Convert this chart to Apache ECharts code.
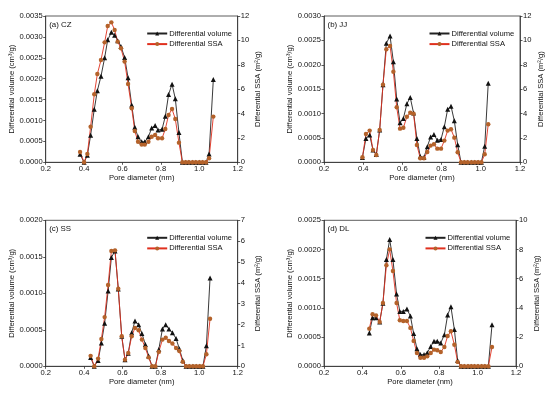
<!DOCTYPE html>
<html>
<head>
<meta charset="utf-8">
<script src="https://cdn.jsdelivr.net/npm/echarts@6/dist/echarts.min.js"></script>
<style>html,body{margin:0;padding:0;background:#fff}#c{width:550px;height:394px}</style>
</head>
<body>
<div id="c"></div>
<script>
// Panel (a) CZ
const xA = [0.379,0.40,0.417,0.434,0.453,0.469,0.488,0.507,0.523,0.542,0.559,0.575,0.592,0.611,0.629,0.648,0.664,0.681,0.70,0.716,0.735,0.752,0.77,0.785,0.806,0.823,0.84,0.858,0.875,0.894,0.912,0.929,0.946,0.965,0.982,1.0,1.017,1.035,1.051,1.073];
const volA = [0.00019,0,0.00017,0.00065,0.00127,0.00171,0.00206,0.0025,0.00293,0.00311,0.00304,0.00291,0.00277,0.00251,0.00202,0.00137,0.00084,0.00061,0.00049,0.00049,0.00061,0.00082,0.00088,0.00077,0.00079,0.0011,0.00162,0.00187,0.00152,0.00071,0,0,0,0,0,0,0,0,0.0002,0.00198];
const ssaA = [0.85,0,0.68,2.92,5.58,7.24,8.39,9.84,11.18,11.48,10.85,9.9,9.35,8.26,6.42,4.43,2.57,1.69,1.45,1.45,1.69,2.1,2.24,1.97,1.97,2.73,3.88,4.37,3.55,1.61,0,0,0,0,0,0,0,0,0.33,3.75];
// Panel (b) JJ
const xB = [0.396,0.414,0.433,0.45,0.467,0.484,0.501,0.518,0.537,0.554,0.571,0.588,0.605,0.623,0.64,0.657,0.674,0.691,0.71,0.727,0.744,0.761,0.778,0.797,0.814,0.831,0.848,0.865,0.882,0.899,0.916,0.933,0.952,0.969,0.986,1.003,1.02,1.038];
const volB = [0.0001,0.00049,0.00056,0.00025,0.00016,0.00066,0.00159,0.00244,0.00259,0.00206,0.0013,0.00081,0.0009,0.0012,0.00133,0.00101,0.00049,0.00012,0.0001,0.00032,0.00052,0.00057,0.00045,0.00047,0.00073,0.00109,0.00115,0.00085,0.00036,0,0,0,0,0,0,0,0.00033,0.00162];
const ssaB = [0.41,2.32,2.6,1.01,0.6,2.65,6.37,9.27,9.54,7.43,4.51,2.76,2.84,3.74,4.07,3.99,1.42,0.33,0.33,0.85,1.37,1.48,1.12,1.12,1.78,2.6,2.71,2.02,0.82,0,0,0,0,0,0,0,0.66,3.12];
// Panel (c) SS
const xC = [0.434,0.453,0.473,0.49,0.507,0.525,0.542,0.561,0.578,0.596,0.613,0.63,0.648,0.665,0.684,0.701,0.719,0.736,0.754,0.771,0.789,0.808,0.825,0.842,0.86,0.879,0.896,0.914,0.931,0.948,0.967,0.984,1.002,1.019,1.037,1.056];
const volC = [0.00012,0,0.00008,0.00032,0.00059,0.00103,0.00149,0.00158,0.00106,0.00041,0.00009,0.00018,0.00046,0.00062,0.00057,0.00045,0.0003,0.00014,0,0,0.00023,0.00051,0.00057,0.00051,0.00046,0.00038,0.00024,0.00008,0,0,0,0,0,0,0.00028,0.00121];
const ssaC = [0.5,0,0.37,1.31,2.36,3.9,5.53,5.56,3.72,1.44,0.32,0.64,1.44,1.84,1.73,1.28,0.88,0.43,0,0,0.69,1.28,1.37,1.21,1.09,0.88,0.73,0.22,0,0,0,0,0,0,0.58,2.28];
// Panel (d) DL
const xD = [0.436,0.453,0.471,0.49,0.507,0.525,0.542,0.559,0.578,0.595,0.613,0.632,0.65,0.667,0.684,0.702,0.721,0.738,0.756,0.773,0.79,0.808,0.827,0.844,0.861,0.879,0.896,0.914,0.931,0.95,0.967,0.984,1.002,1.021,1.038,1.056,1.075];
const volD = [0.00057,0.00083,0.00083,0.00076,0.00108,0.00183,0.00217,0.00183,0.00124,0.00094,0.00094,0.00098,0.00086,0.00056,0.0003,0.0002,0.0002,0.00023,0.00034,0.00043,0.00043,0.0004,0.00054,0.00088,0.00102,0.00063,0.0001,0,0,0,0,0,0,0,0,0,0.00071];
const ssaD = [2.58,3.56,3.49,3.04,4.34,6.92,8.01,6.53,4.34,3.15,3.1,3.1,2.63,1.74,0.91,0.59,0.59,0.68,0.91,1.14,1.1,0.98,1.32,2.08,2.4,1.48,0.3,0,0,0,0,0,0,0,0,0,1.32];

const panelTitles = ['(a) CZ','(b) JJ','(c) SS','(d) DL'];
const volMax = [0.0035,0.0030,0.0020,0.0025];
const ssaMax = [12,12,7,10];
const ssaStep = [2,2,1,2];
const xAxisName = 'Pore diameter (nm)';
const volName = 'Differential volume (cm³/g)';
const ssaName = 'Differential SSA (m²/g)';
const seriesNames = ['Differential volume','Differential SSA'];

const panels = [[xA,volA,ssaA],[xB,volB,ssaB],[xC,volC,ssaC],[xD,volD,ssaD]];
const grids = [
  {left:45.7, top:16, width:192, height:146.3},
  {left:324, top:16, width:196, height:146.3},
  {left:45.7, top:220.3, width:192, height:146},
  {left:324, top:220.3, width:192, height:146}
];
const FONT = 'Liberation Sans, Arial, sans-serif';
const FS = 7.6;
const AX = '#333';

const option = {
  animation:false,
  backgroundColor:'#fff',
  textStyle:{fontFamily:FONT},
  grid: grids.map(g => Object.assign({show:true, borderColor:AX, borderWidth:0.8, backgroundColor:'transparent'}, g)),
  title: panelTitles.map((t,i) => ({text:t, left:grids[i].left+3.5, top:grids[i].top+4.5, padding:0,
     textStyle:{fontSize:FS+0.3, fontWeight:'normal', color:'#111', fontFamily:FONT}})),
  legend: grids.map((g,i) => ({gridIndex:i, orient:'vertical', left:g.left+g.width-91.5, top:g.top+13.5, padding:0,
     itemWidth:20, itemHeight:5, itemGap:2.6, data:seriesNames,
     textStyle:{fontSize:FS, color:'#111', fontFamily:FONT, padding:[0,0,0,-3]}})),
  xAxis: grids.map((g,i) => ({type:'value', gridIndex:i, min:0.2, max:1.2, interval:0.2,
     name:xAxisName, nameLocation:'middle', nameGap:9.5,
     nameTextStyle:{fontSize:FS, color:'#111', fontFamily:FONT},
     axisLine:{lineStyle:{color:AX, width:0.8}}, axisTick:{length:2.5, lineStyle:{color:AX, width:0.8}},
     axisLabel:{fontSize:FS, color:'#111', margin:2.5, formatter:v=>v.toFixed(1), fontFamily:FONT},
     splitLine:{show:false}})),
  yAxis: [],
  series: []
};
grids.forEach((g,i) => {
  option.yAxis.push({type:'value', gridIndex:i, position:'left', min:0, max:volMax[i], interval:0.0005,
     name:volName, nameLocation:'middle', nameGap:28.5, nameRotate:90,
     nameTextStyle:{fontSize:FS, color:'#111', fontFamily:FONT},
     axisLine:{show:true, lineStyle:{color:AX, width:0.8}}, axisTick:{show:true, length:2.5, lineStyle:{color:AX, width:0.8}},
     axisLabel:{fontSize:FS, color:'#111', margin:3, formatter:v=>v.toFixed(4), fontFamily:FONT},
     splitLine:{show:false}});
  option.yAxis.push({type:'value', gridIndex:i, position:'right', min:0, max:ssaMax[i], interval:ssaStep[i],
     name:ssaName, nameLocation:'middle', nameGap:16.5, nameRotate:90,
     nameTextStyle:{fontSize:FS, color:'#111', fontFamily:FONT},
     axisLine:{show:true, lineStyle:{color:AX, width:0.8}}, axisTick:{show:true, length:2.5, lineStyle:{color:AX, width:0.8}},
     axisLabel:{fontSize:FS, color:'#111', margin:3, fontFamily:FONT},
     splitLine:{show:false}});
});
panels.forEach((p,i) => {
  const [xs,vol,ssa] = p;
  option.series.push({name:seriesNames[0], type:'line', xAxisIndex:i, yAxisIndex:2*i,
     data: xs.map((x,k)=>[x,vol[k]]), symbol:'triangle', symbolSize:5, showSymbol:true,
     lineStyle:{color:'#222', width:0.9}, itemStyle:{color:'#111'}});
  option.series.push({name:seriesNames[1], type:'line', xAxisIndex:i, yAxisIndex:2*i+1,
     data: xs.map((x,k)=>[x,ssa[k]]), symbol:'circle', symbolSize:4.4, showSymbol:true,
     lineStyle:{color:'#e0301e', width:0.9}, itemStyle:{color:'#b4622a'}});
});
const chart = echarts.init(document.getElementById('c'), null, {renderer:'canvas'});
chart.setOption(option);
</script>
</body>
</html>
